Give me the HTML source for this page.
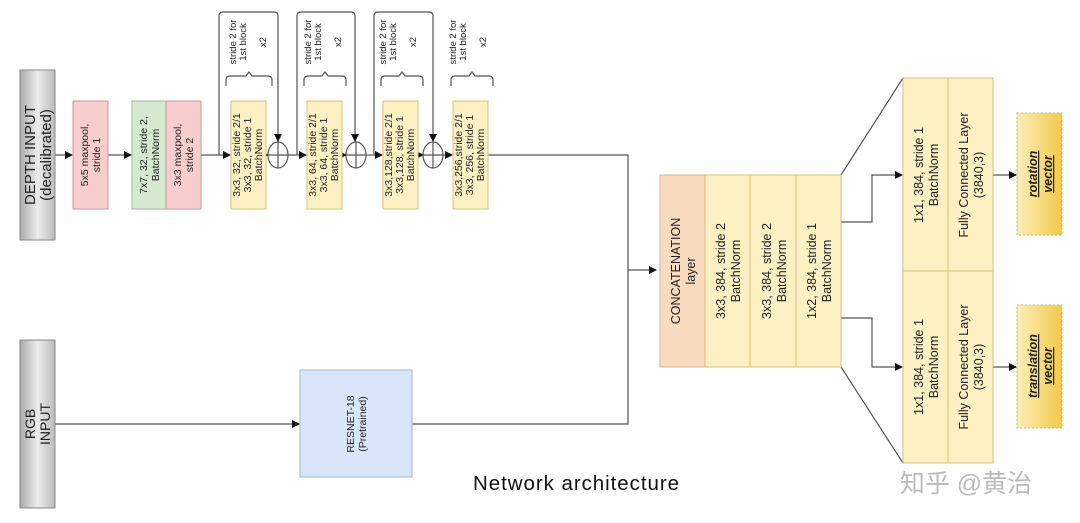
<!DOCTYPE html>
<html><head><meta charset="utf-8"><style>
body{margin:0;background:#fff;}
svg{display:block;font-family:"Liberation Sans",sans-serif;}
.t{fill:#222;text-anchor:middle;}
</style></head><body>
<svg width="1080" height="523" viewBox="0 0 1080 523" xmlns="http://www.w3.org/2000/svg">
<defs>
<linearGradient id="g" x1="0" x2="1"><stop offset="0" stop-color="#aaa"/><stop offset="0.5" stop-color="#ececec"/><stop offset="1" stop-color="#bbb"/></linearGradient>
<linearGradient id="y" x1="0" x2="1"><stop offset="0" stop-color="#fbeeb8"/><stop offset="1" stop-color="#f3c94a"/></linearGradient>
<marker id="a" markerWidth="8" markerHeight="8" refX="7" refY="4" orient="auto" markerUnits="userSpaceOnUse"><path d="M0,0 L8,4 L0,8z" fill="#111"/></marker>
</defs>
<g stroke="#555" stroke-width="1.2" fill="none">
<line x1="55" y1="155" x2="72" y2="155" marker-end="url(#a)"/>
<line x1="108" y1="155" x2="131" y2="155" marker-end="url(#a)"/>
<line x1="201" y1="155" x2="230" y2="155" marker-end="url(#a)"/>
<line x1="266" y1="155" x2="268" y2="155" marker-end="url(#a)"/>
<line x1="288" y1="155" x2="306" y2="155" marker-end="url(#a)"/>
<line x1="342" y1="155" x2="346" y2="155" marker-end="url(#a)"/>
<line x1="366" y1="155" x2="382" y2="155" marker-end="url(#a)"/>
<line x1="418" y1="155" x2="423" y2="155" marker-end="url(#a)"/>
<line x1="443" y1="155" x2="452" y2="155" marker-end="url(#a)"/>
<polyline points="488,155 628,155 628,270 656,270" marker-end="url(#a)"/>
<path d="M219,155 V16 Q219,12 223,12 H274 Q278,12 278,16 V141" marker-end="url(#a)"/>
<path d="M297,155 V16 Q297,12 301,12 H351 Q355,12 355,16 V141" marker-end="url(#a)"/>
<path d="M374,155 V16 Q374,12 378,12 H429 Q433,12 433,16 V141" marker-end="url(#a)"/>
<path d="M226,86 V80 Q226,76 230,76 H246 L249,72 L252,76 H268 Q272,76 272,80 V86"/>
<path d="M304,86 V80 Q304,76 308,76 H322 L325,72 L328,76 H342 Q346,76 346,80 V86"/>
<path d="M381,86 V80 Q381,76 385,76 H399 L402,72 L405,76 H419 Q423,76 423,80 V86"/>
<path d="M451,86 V80 Q451,76 455,76 H469 L472,72 L475,76 H489 Q493,76 493,80 V86"/>
<ellipse cx="278" cy="155" rx="10" ry="13"/><line x1="268" y1="155" x2="288" y2="155"/><line x1="278" y1="142" x2="278" y2="168"/>
<ellipse cx="356" cy="155" rx="10" ry="13"/><line x1="346" y1="155" x2="366" y2="155"/><line x1="356" y1="142" x2="356" y2="168"/>
<ellipse cx="433" cy="155" rx="10" ry="13"/><line x1="423" y1="155" x2="443" y2="155"/><line x1="433" y1="142" x2="433" y2="168"/>
<line x1="55" y1="424" x2="299" y2="424" marker-end="url(#a)"/>
<polyline points="412,424 628,424 628,270"/>
<line x1="841" y1="175" x2="903" y2="78"/>
<line x1="841" y1="367" x2="903" y2="463"/>
<polyline points="841,222 872,222 872,175 902,175" marker-end="url(#a)"/>
<polyline points="841,318 872,318 872,367 902,367" marker-end="url(#a)"/>
<line x1="993" y1="175" x2="1016" y2="175" marker-end="url(#a)"/>
<line x1="993" y1="367" x2="1016" y2="367" marker-end="url(#a)"/>
</g>
<rect x="20" y="70" width="35" height="170" fill="url(#g)" stroke="#888"/>
<rect x="20" y="340" width="35" height="168" fill="url(#g)" stroke="#888"/>
<rect x="73" y="101" width="35" height="108" fill="#f7cdcd" stroke="#c99"/>
<rect x="132" y="101" width="34" height="108" fill="#d5e8d0" stroke="#9b9"/>
<rect x="166" y="101" width="35" height="108" fill="#f7cdcd" stroke="#c99"/>
<g fill="#fdf1c4" stroke="#d8c27a">
<rect x="231" y="101" width="35" height="108"/>
<rect x="307" y="101" width="35" height="108"/>
<rect x="383" y="101" width="35" height="108"/>
<rect x="453" y="101" width="35" height="108"/>
</g>
<rect x="300" y="370" width="112" height="107" fill="#d9e6f9" stroke="#a3b5d0"/>
<rect x="660" y="175" width="45" height="192" fill="#f9dcc0" stroke="#d8b78a"/>
<g fill="#fdf1c4" stroke="#d8c27a">
<rect x="705" y="175" width="45" height="192"/>
<rect x="750" y="175" width="46" height="192"/>
<rect x="796" y="175" width="45" height="192"/>
<rect x="903" y="78" width="45" height="193"/><rect x="948" y="78" width="45" height="193"/>
<rect x="903" y="271" width="45" height="192"/><rect x="948" y="271" width="45" height="192"/>
</g>
<rect x="1017" y="113" width="45" height="122" fill="url(#y)" stroke="#d8b060" stroke-dasharray="2,2"/>
<rect x="1017" y="305" width="45" height="123" fill="url(#y)" stroke="#d8b060" stroke-dasharray="2,2"/>
<g class="t" font-size="15">
<text transform="translate(37,155) rotate(-90)"><tspan x="0" dy="-2">DEPTH INPUT</tspan><tspan x="0" dy="16">(decalibrated)</tspan></text>
<text transform="translate(37,424) rotate(-90)" font-size="14"><tspan x="0" dy="-2">RGB</tspan><tspan x="0" dy="15">INPUT</tspan></text>
</g>
<g class="t" font-size="10.5">
<text transform="translate(90,155) rotate(-90)"><tspan x="0" dy="-2">5x5 maxpool,</tspan><tspan x="0" dy="12">stride 1</tspan></text>
<text transform="translate(149,155) rotate(-90)"><tspan x="0" dy="-2">7x7, 32, stride 2,</tspan><tspan x="0" dy="12">BatchNorm</tspan></text>
<text transform="translate(183,155) rotate(-90)"><tspan x="0" dy="-2">3x3 maxpool,</tspan><tspan x="0" dy="12">stride 2</tspan></text>
<text transform="translate(248,155) rotate(-90)"><tspan x="0" dy="-8">3x3, 32, stride 2/1</tspan><tspan x="0" dy="11">3x3, 32, stride 1</tspan><tspan x="0" dy="11">BatchNorm</tspan></text>
<text transform="translate(324,155) rotate(-90)"><tspan x="0" dy="-8">3x3, 64, stride 2/1</tspan><tspan x="0" dy="11">3x3, 64, stride 1</tspan><tspan x="0" dy="11">BatchNorm</tspan></text>
<text transform="translate(400,155) rotate(-90)"><tspan x="0" dy="-8">3x3,128,stride 2/1</tspan><tspan x="0" dy="11">3x3,128, stride 1</tspan><tspan x="0" dy="11">BatchNorm</tspan></text>
<text transform="translate(470,155) rotate(-90)"><tspan x="0" dy="-8">3x3,256,stride 2/1</tspan><tspan x="0" dy="11">3x3, 256, stride 1</tspan><tspan x="0" dy="11">BatchNorm</tspan></text>
<text transform="translate(356,424) rotate(-90)"><tspan x="0" dy="-2">RESNET-18</tspan><tspan x="0" dy="12">(Pretrained)</tspan></text>
</g>
<g class="t" font-size="9.5">
<text transform="translate(240,42) rotate(-90)"><tspan x="0" dy="-4">stride 2 for</tspan><tspan x="0" dy="10">1st block</tspan><tspan x="0" dy="20">x2</tspan></text>
<text transform="translate(315,42) rotate(-90)"><tspan x="0" dy="-4">stride 2 for</tspan><tspan x="0" dy="10">1st block</tspan><tspan x="0" dy="20">x2</tspan></text>
<text transform="translate(390,42) rotate(-90)"><tspan x="0" dy="-4">stride 2 for</tspan><tspan x="0" dy="10">1st block</tspan><tspan x="0" dy="20">x2</tspan></text>
<text transform="translate(460,42) rotate(-90)"><tspan x="0" dy="-4">stride 2 for</tspan><tspan x="0" dy="10">1st block</tspan><tspan x="0" dy="20">x2</tspan></text>
</g>
<g class="t" font-size="12.5">
<text transform="translate(682,271) rotate(-90)"><tspan x="0" dy="-2">CONCATENATION</tspan><tspan x="0" dy="15">layer</tspan></text>
<text transform="translate(727,271) rotate(-90)"><tspan x="0" dy="-2">3x3, 384, stride 2</tspan><tspan x="0" dy="15">BatchNorm</tspan></text>
<text transform="translate(773,271) rotate(-90)"><tspan x="0" dy="-2">3x3, 384, stride 2</tspan><tspan x="0" dy="15">BatchNorm</tspan></text>
<text transform="translate(818,271) rotate(-90)"><tspan x="0" dy="-2">1x2, 384, stride 1</tspan><tspan x="0" dy="15">BatchNorm</tspan></text>
<text transform="translate(925,175) rotate(-90)"><tspan x="0" dy="-2">1x1, 384, stride 1</tspan><tspan x="0" dy="15">BatchNorm</tspan></text>
<text transform="translate(970,175) rotate(-90)"><tspan x="0" dy="-2">Fully Connected Layer</tspan><tspan x="0" dy="15">(3840,3)</tspan></text>
<text transform="translate(925,367) rotate(-90)"><tspan x="0" dy="-2">1x1, 384, stride 1</tspan><tspan x="0" dy="15">BatchNorm</tspan></text>
<text transform="translate(970,367) rotate(-90)"><tspan x="0" dy="-2">Fully Connected Layer</tspan><tspan x="0" dy="15">(3840,3)</tspan></text>
<text transform="translate(1039,174) rotate(-90)" font-weight="bold" font-style="italic" text-decoration="underline"><tspan x="0" dy="-2">rotation</tspan><tspan x="0" dy="15">vector</tspan></text>
<text transform="translate(1039,366) rotate(-90)" font-weight="bold" font-style="italic" text-decoration="underline"><tspan x="0" dy="-2">translation</tspan><tspan x="0" dy="15">vector</tspan></text>
</g>
<text x="576" y="490" font-size="20.5" text-anchor="middle" fill="#111" font-family="'Liberation Sans',sans-serif" textLength="206">Network architecture</text>
<text x="966" y="492" font-size="25" text-anchor="middle" fill="#bbb" font-family="'Liberation Sans','Noto Sans CJK SC',sans-serif">知乎 @黄治</text>
</svg>
</body></html>
